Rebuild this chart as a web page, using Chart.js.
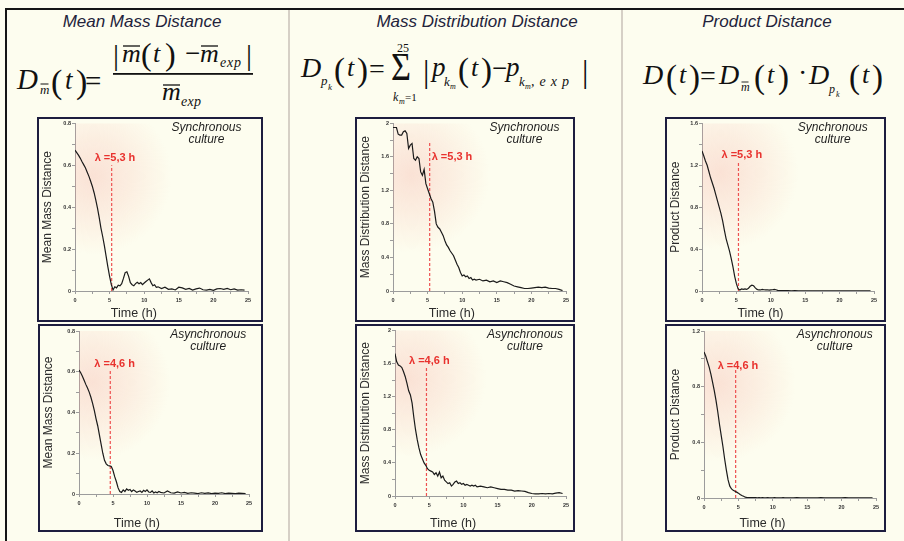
<!DOCTYPE html>
<html>
<head>
<meta charset="utf-8">
<script src="https://cdn.jsdelivr.net/npm/chart.js@4.4.1/dist/chart.umd.min.js"></script>
<style>
  body { margin: 0; width: 904px; height: 541px; background: #fdfdef; overflow: hidden; position: relative; font-family: 'Liberation Sans', Arial, sans-serif; }
  #deco { position: absolute; left: 0; top: 0; }
  .box { position: absolute; border: 2px solid #1d1d3f; box-sizing: border-box; background: #fdfdef; }
  .box canvas { display: block; }
</style>
</head>
<body>
<svg id="deco" width="904" height="541">
  <line x1="5" y1="9" x2="904" y2="9" stroke="#151515" stroke-width="2"/>
  <line x1="6" y1="9" x2="6" y2="541" stroke="#151515" stroke-width="2"/>
  <line x1="289" y1="10" x2="289" y2="541" stroke="#d6d0c6" stroke-width="2"/>
  <line x1="622" y1="10" x2="622" y2="541" stroke="#d6d0c6" stroke-width="2"/>

  <g font-family="'Liberation Sans', Arial, sans-serif" font-style="italic" font-size="17" fill="#23233b" text-anchor="middle">
    <text x="142" y="27">Mean Mass Distance</text>
    <text x="477" y="27">Mass Distribution Distance</text>
    <text x="767" y="27">Product Distance</text>
  </g>

  <g font-family="'Liberation Serif', 'Times New Roman', serif" fill="#111">
    <!-- mean mass distance formula -->
    <text x="17" y="89" font-size="29" font-style="italic">D</text>
    <text x="40" y="94" font-size="13" font-style="italic">m</text>
    <line x1="40.5" y1="84" x2="48.5" y2="84" stroke="#111" stroke-width="1"/>
    <text x="51" y="93" font-size="34">(</text>
    <text x="65" y="89" font-size="27" font-style="italic">t</text>
    <text x="76" y="93" font-size="34">)</text>
    <text x="85" y="91" font-size="29">=</text>
    <text x="113" y="65" font-size="30">|</text>
    <text x="122" y="62" font-size="26" font-style="italic">m</text>
    <line x1="123" y1="46" x2="140" y2="46" stroke="#111" stroke-width="1.3"/>
    <text x="141" y="65" font-size="32">(</text>
    <text x="153" y="62" font-size="26" font-style="italic">t</text>
    <text x="165" y="65" font-size="32">)</text>
    <text x="185" y="62" font-size="27">−</text>
    <text x="200" y="62" font-size="26" font-style="italic">m</text>
    <line x1="201" y1="46" x2="218" y2="46" stroke="#111" stroke-width="1.3"/>
    <text x="220" y="67" font-size="14" font-style="italic" textLength="21" lengthAdjust="spacing">exp</text>
    <text x="246" y="65" font-size="30">|</text>
    <rect x="113" y="73" width="140" height="1.8"/>
    <text x="162" y="100" font-size="26" font-style="italic">m</text>
    <line x1="163" y1="85" x2="180" y2="85" stroke="#111" stroke-width="1.3"/>
    <text x="181" y="106" font-size="14" font-style="italic" textLength="20" lengthAdjust="spacing">exp</text>

    <!-- mass distribution distance formula -->
    <text x="301" y="77" font-size="28" font-style="italic">D</text>
    <text x="321" y="85" font-size="13" font-style="italic">p</text>
    <text x="328" y="90" font-size="9" font-style="italic">k</text>
    <text x="334" y="81" font-size="33">(</text>
    <text x="347" y="76" font-size="26" font-style="italic">t</text>
    <text x="357" y="81" font-size="33">)</text>
    <text x="369" y="78" font-size="28">=</text>
    <text x="397" y="52" font-size="12">25</text>
    <text x="391" y="80" font-size="40" textLength="20" lengthAdjust="spacingAndGlyphs">Σ</text>
    <text x="393" y="101" font-size="12" font-style="italic">k</text>
    <text x="399" y="104" font-size="8" font-style="italic">m</text>
    <text x="405" y="101" font-size="11">=1</text>
    <text x="423" y="82" font-size="32">|</text>
    <text x="432" y="76" font-size="27" font-style="italic">p</text>
    <text x="444" y="86" font-size="13" font-style="italic">k</text>
    <text x="450" y="89" font-size="8" font-style="italic">m</text>
    <text x="458" y="81" font-size="33">(</text>
    <text x="471" y="76" font-size="26" font-style="italic">t</text>
    <text x="481" y="81" font-size="33">)</text>
    <text x="492" y="77" font-size="27">−</text>
    <text x="506" y="76" font-size="27" font-style="italic">p</text>
    <text x="519" y="86" font-size="13" font-style="italic">k</text>
    <text x="525" y="89" font-size="8" font-style="italic">m</text>
    <text x="531" y="86" font-size="14" font-style="italic" textLength="38" lengthAdjust="spacing">,exp</text>
    <text x="582" y="82" font-size="32">|</text>

    <!-- product distance formula -->
    <text x="643" y="84" font-size="28" font-style="italic">D</text>
    <text x="666" y="88" font-size="33">(</text>
    <text x="679" y="83" font-size="26" font-style="italic">t</text>
    <text x="689" y="88" font-size="33">)</text>
    <text x="700" y="85" font-size="28">=</text>
    <text x="719" y="84" font-size="28" font-style="italic">D</text>
    <text x="741" y="91" font-size="12" font-style="italic">m</text>
    <line x1="741.5" y1="82" x2="748.5" y2="82" stroke="#111" stroke-width="0.9"/>
    <text x="754" y="88" font-size="33">(</text>
    <text x="767" y="83" font-size="26" font-style="italic">t</text>
    <text x="778" y="88" font-size="33">)</text>
    <text x="798" y="82" font-size="28">·</text>
    <text x="809" y="84" font-size="28" font-style="italic">D</text>
    <text x="829" y="93" font-size="12" font-style="italic">p</text>
    <text x="836" y="97" font-size="8" font-style="italic">k</text>
    <text x="849" y="88" font-size="33">(</text>
    <text x="862" y="83" font-size="26" font-style="italic">t</text>
    <text x="872" y="88" font-size="33">)</text>
  </g>
</svg>

<script>
// time axis (h) shared by all six curves
const T = [0, 0.25, 0.5, 0.75, 1, 1.25, 1.5, 1.75, 2, 2.25, 2.5, 2.75, 3, 3.25, 3.5, 3.75, 4, 4.25, 4.5, 4.75,
    5, 5.25, 5.5, 5.75, 6, 6.25, 6.5, 6.75, 7, 7.25, 7.5, 7.75, 8, 8.25, 8.5, 8.75, 9, 9.25, 9.5, 9.75,
    10, 10.25, 10.5, 10.75, 11, 11.25, 11.5, 11.75, 12, 12.5, 13, 13.5, 14, 14.5, 15, 15.5, 16, 16.5,
    17, 17.5, 18, 18.5, 19, 19.5, 20, 20.5, 21, 21.5, 22, 22.5, 23, 23.5, 24, 24.5];

const meanSync = [0.672, 0.660, 0.648, 0.634, 0.618, 0.603, 0.588, 0.568, 0.548, 0.525, 0.500, 0.470, 0.435, 0.395, 0.350, 0.300, 0.260, 0.215, 0.165, 0.115,
    0.070, 0.030, 0.005, 0.020, 0.015, 0.028, 0.025, 0.035, 0.060, 0.088, 0.092, 0.070, 0.040, 0.030, 0.025, 0.035, 0.042, 0.035, 0.040, 0.030,
    0.038, 0.045, 0.052, 0.058, 0.040, 0.025, 0.030, 0.018, 0.020, 0.012, 0.018, 0.008, 0.010, 0.005, 0.018, 0.015, 0.008, 0.012,
    0.004, 0.010, 0.014, 0.006, 0.004, 0.008, 0.003, 0.010, 0.012, 0.008, 0.012, 0.006, 0.010, 0.004, 0.006, 0.004];

const mdistSync = [1.95, 1.95, 1.95, 1.87, 1.86, 1.86, 1.90, 1.91, 1.88, 1.70, 1.74, 1.76, 1.58, 1.56, 1.60, 1.58, 1.42, 1.38, 1.45, 1.28,
    1.22, 1.16, 1.10, 1.06, 0.95, 0.80, 0.76, 0.74, 0.70, 0.66, 0.60, 0.55, 0.52, 0.48, 0.45, 0.42, 0.37, 0.32, 0.28, 0.22,
    0.18, 0.19, 0.17, 0.18, 0.15, 0.16, 0.13, 0.14, 0.13, 0.14, 0.12, 0.13, 0.11, 0.12, 0.10, 0.12, 0.11, 0.10,
    0.08, 0.06, 0.05, 0.04, 0.03, 0.03, 0.035, 0.04, 0.045, 0.04, 0.045, 0.035, 0.03, 0.03, 0.02, 0.005];

const prodSync = [1.335, 1.29, 1.24, 1.20, 1.14, 1.08, 1.03, 0.98, 0.92, 0.86, 0.80, 0.74, 0.67, 0.58, 0.50, 0.44, 0.38, 0.31, 0.23, 0.14,
    0.07, 0.02, 0.01, 0.02, 0.015, 0.02, 0.015, 0.025, 0.045, 0.055, 0.05, 0.03, 0.015, 0.01, 0.01, 0.015, 0.012, 0.01, 0.012, 0.008,
    0.01, 0.012, 0.015, 0.012, 0.006, 0.004, 0.004, 0.003, 0.003, 0.003, 0.002, 0.003, 0.002, 0.002, 0.001, 0.002, 0.001, 0.001,
    0.002, 0.001, 0.001, 0.001, 0.002, 0.001, 0.001, 0.001, 0.001, 0.002, 0.001, 0.001, 0.001, 0.001, 0.001, 0.001];

const meanAsync = [0.608, 0.595, 0.578, 0.558, 0.538, 0.52, 0.50, 0.475, 0.445, 0.41, 0.37, 0.335, 0.29, 0.245, 0.20, 0.165, 0.148, 0.14, 0.138, 0.135,
    0.115, 0.085, 0.06, 0.03, 0.012, 0.008, 0.02, 0.012, 0.025, 0.018, 0.022, 0.012, 0.02, 0.015, 0.008, 0.012, 0.015, 0.008, 0.018, 0.012,
    0.02, 0.01, 0.008, 0.015, 0.005, 0.01, 0.006, 0.012, 0.008, 0.005, 0.015, 0.006, 0.004, 0.01, 0.005, 0.008, 0.003, 0.006,
    0.004, 0.002, 0.006, 0.003, 0.005, 0.002, 0.004, 0.003, 0.006, 0.002, 0.004, 0.003, 0.002, 0.004, 0.003, 0.002];

const mdistAsync = [1.72, 1.62, 1.58, 1.57, 1.55, 1.50, 1.44, 1.36, 1.27, 1.22, 1.12, 0.95, 0.80, 0.68, 0.58, 0.50, 0.45, 0.40, 0.37, 0.33,
    0.31, 0.30, 0.29, 0.26, 0.28, 0.24, 0.29, 0.22, 0.24, 0.19, 0.17, 0.15, 0.16, 0.12, 0.14, 0.17, 0.18, 0.15, 0.16, 0.14,
    0.15, 0.13, 0.14, 0.13, 0.12, 0.13, 0.12, 0.13, 0.11, 0.12, 0.11, 0.10, 0.11, 0.10, 0.09, 0.08, 0.08, 0.07,
    0.07, 0.06, 0.065, 0.06, 0.055, 0.04, 0.03, 0.025, 0.025, 0.03, 0.025, 0.03, 0.025, 0.035, 0.04, 0.03];

const prodAsync = [1.05, 1.02, 0.98, 0.94, 0.89, 0.83, 0.77, 0.70, 0.62, 0.53, 0.45, 0.37, 0.28, 0.20, 0.13, 0.085, 0.065, 0.055, 0.048, 0.042,
    0.035, 0.025, 0.018, 0.012, 0.006, 0.003, 0.002, 0.002, 0.003, 0.002, 0.002, 0.001, 0.002, 0.001, 0.002, 0.001, 0.001, 0.002, 0.001, 0.001,
    0.001, 0.002, 0.001, 0.001, 0.001, 0.001, 0.002, 0.001, 0.001, 0.001, 0.001, 0.002, 0.001, 0.001, 0.001, 0.001, 0.001, 0.001,
    0.002, 0.001, 0.001, 0.001, 0.001, 0.001, 0.001, 0.002, 0.001, 0.001, 0.001, 0.001, 0.001, 0.001, 0.001, 0.001];

const xMajor = 5;

// box = [left, top, width, height], plot = [x of t=0, x of t=25, y of 0, y of max]
const panels = [
    { box: [37, 117, 226, 205], plot: [75, 248, 291, 123], yMax: 0.8, yMajor: 0.2, yMinor: 0.1, yTitle: 'Mean Mass Distance',
      culture: 'Synchronous', data: meanSync, lambda: 5.3, lambdaText: 'λ =5,3 h', labelY: 0.633, labelDx: -17, lineTop: 0.6 },
    { box: [355, 117, 220, 205], plot: [393, 566, 291, 122], yMax: 2, yMajor: 0.4, yMinor: 0.2, yTitle: 'Mass Distribution Distance',
      culture: 'Synchronous', data: mdistSync, lambda: 5.3, lambdaText: 'λ =5,3 h', labelY: 1.60, labelDx: 2, lineTop: 1.79 },
    { box: [665, 117, 221, 205], plot: [702, 874, 291, 123], yMax: 1.6, yMajor: 0.4, yMinor: 0.2, yTitle: 'Product Distance',
      culture: 'Synchronous', data: prodSync, lambda: 5.3, lambdaText: 'λ =5,3 h', labelY: 1.30, labelDx: -17, lineTop: 1.23 },
    { box: [38, 324, 225, 208], plot: [79, 249, 494, 331], yMax: 0.8, yMajor: 0.2, yMinor: 0.1, yTitle: 'Mean Mass Distance',
      culture: 'Asynchronous', data: meanAsync, lambda: 4.6, lambdaText: 'λ =4,6 h', labelY: 0.636, labelDx: -16, lineTop: 0.613 },
    { box: [355, 324, 220, 208], plot: [395, 566, 496, 330], yMax: 2, yMajor: 0.4, yMinor: 0.2, yTitle: 'Mass Distribution Distance',
      culture: 'Asynchronous', data: mdistAsync, lambda: 4.6, lambdaText: 'λ =4,6 h', labelY: 1.63, labelDx: -17.5, lineTop: 1.566 },
    { box: [665, 324, 221, 208], plot: [704, 876, 498, 331], yMax: 1.2, yMajor: 0.4, yMinor: 0.2, yTitle: 'Product Distance',
      culture: 'Asynchronous', data: prodAsync, lambda: 4.6, lambdaText: 'λ =4,6 h', labelY: 0.95, labelDx: -18, lineTop: 0.92 }
];

const SANS = "'Liberation Sans', Arial, sans-serif";
const tickFont = { family: SANS, size: 5.5, weight: 'bold' };

const isMultiple = (v, step) => Math.abs(v / step - Math.round(v / step)) < 1e-6;

// pink haze, dashed lambda marker and the in-plot labels
const decor = {
    id: 'decor',
    beforeDatasetsDraw(chart, args, o) {
        const { ctx, chartArea: a, scales: { x, y } } = chart;
        const lx = x.getPixelForValue(o.lambda);
        const ly = y.getPixelForValue(o.labelY);
        ctx.save();
        ctx.beginPath();
        ctx.rect(a.left, a.top, a.width, a.height);
        ctx.clip();
        const cx = lx - 18, cy = ly + 18;
        const g = ctx.createRadialGradient(cx, cy, 0, cx, cy, 78);
        g.addColorStop(0, 'rgba(246,165,155,0.30)');
        g.addColorStop(0.5, 'rgba(246,165,155,0.16)');
        g.addColorStop(1, 'rgba(246,165,155,0)');
        ctx.fillStyle = g;
        ctx.fillRect(a.left, a.top, a.width, a.height);
        ctx.strokeStyle = '#ee5050';
        ctx.lineWidth = 1.2;
        ctx.setLineDash([3, 2]);
        ctx.beginPath();
        ctx.moveTo(lx, y.getPixelForValue(0));
        ctx.lineTo(lx, y.getPixelForValue(o.lineTop));
        ctx.stroke();
        ctx.restore();
    },
    afterDraw(chart, args, o) {
        const { ctx, chartArea: a, scales: { x, y } } = chart;
        const lx = x.getPixelForValue(o.lambda);
        ctx.save();
        ctx.textBaseline = 'middle';
        ctx.fillStyle = '#e8322e';
        ctx.font = 'bold 11px ' + SANS;
        ctx.textAlign = 'left';
        ctx.fillText(o.lambdaText, lx + o.labelDx, y.getPixelForValue(o.labelY));
        ctx.fillStyle = '#1e1e1e';
        ctx.font = 'italic 12px ' + SANS;
        ctx.textAlign = 'center';
        const cx = a.left + a.width * 0.76;
        ctx.fillText(o.culture, cx, a.top + 4);
        ctx.fillText('culture', cx, a.top + 16);
        ctx.fillStyle = '#2b2b2b';
        ctx.font = '12.5px ' + SANS;
        ctx.fillText('Time (h)', a.left + a.width * 0.34, chart.height - 6.5);
        ctx.restore();
    }
};

panels.forEach(p => {
    const [bx, by, bw, bh] = p.box;
    const [x0, x25, y0, yTop] = p.plot;
    const div = document.createElement('div');
    div.className = 'box';
    Object.assign(div.style, { left: bx + 'px', top: by + 'px', width: bw + 'px', height: bh + 'px' });
    const canvas = document.createElement('canvas');
    const cw = bw - 4, ch = bh - 4, cl = bx + 2, ct = by + 2;
    canvas.width = cw;
    canvas.height = ch;
    div.appendChild(canvas);
    document.body.appendChild(div);

    const yw = x0 - cl, rp = cl + cw - x25, tp = yTop - ct, xh = ct + ch - y0;
    const axisGrid = { drawOnChartArea: false, drawTicks: true, tickLength: 3, color: '#9c9c9c' };

    new Chart(canvas, {
        type: 'line',
        data: {
            datasets: [{
                data: T.map((t, i) => ({ x: t, y: p.data[i] })),
                borderColor: '#1b1b1b',
                borderWidth: 1.2,
                pointRadius: 0,
                tension: 0,
                fill: false
            }]
        },
        options: {
            responsive: false,
            animation: false,
            layout: { padding: { left: 0, top: tp, right: rp, bottom: 0 } },
            plugins: {
                legend: { display: false },
                tooltip: { enabled: false },
                decor: { lambda: p.lambda, lambdaText: p.lambdaText, labelY: p.labelY, labelDx: p.labelDx, lineTop: p.lineTop, culture: p.culture }
            },
            scales: {
                x: {
                    type: 'linear', min: 0, max: 25,
                    afterFit: s => { s.height = xh; },
                    ticks: { stepSize: 2.5, autoSkip: false, maxRotation: 0, padding: 3, font: tickFont, color: '#333',
                        callback: v => isMultiple(v, xMajor) ? String(v) : '' },
                    grid: axisGrid,
                    border: { color: '#9c9c9c' }
                },
                y: {
                    min: 0, max: p.yMax,
                    afterFit: s => { s.width = yw; },
                    ticks: { stepSize: p.yMinor, autoSkip: false, padding: 1, font: tickFont, color: '#333',
                        callback: v => isMultiple(v, p.yMajor) ? String(+v.toFixed(1)) : '' },
                    grid: axisGrid,
                    border: { color: '#9c9c9c' },
                    title: { display: true, text: p.yTitle, color: '#2b2b2b', padding: { top: 2.5, bottom: 0 },
                        font: { family: SANS, size: 12, lineHeight: 1 } }
                }
            }
        },
        plugins: [decor]
    });
});
</script>
</body>
</html>
